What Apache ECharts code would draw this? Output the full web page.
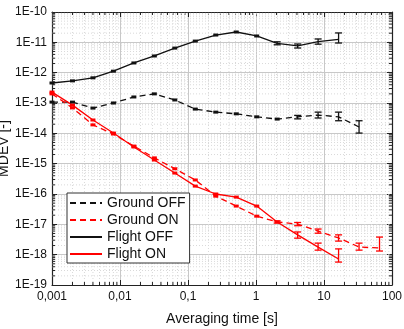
<!DOCTYPE html>
<html><head><meta charset="utf-8">
<script src="https://cdn.jsdelivr.net/npm/echarts@6/dist/echarts.min.js"></script>
<style>html,body{margin:0;padding:0;background:#fff}#c{width:404px;height:329px}</style>
</head><body><div id="c"></div>
<script>
// Averaging times [s]
const tau = [0.001,0.002,0.004,0.008,0.016,0.032,0.064,0.128,0.256,0.512,1.024,2.048,4.096,8.192,16.384,32.768,65.536];
// MDEV values
const groundOff = [1.07e-13,1.07e-13,6.8e-14,1.0e-13,1.58e-13,2.0e-13,1.26e-13,6.3e-14,5.0e-14,4.4e-14,3.5e-14,2.95e-14,3.5e-14,4.0e-14,3.5e-14,1.62e-14];
const groundOn  = [2.0e-13,6.9e-14,1.9e-14,9.5e-15,3.8e-15,1.55e-15,6.8e-16,2.9e-16,8.5e-17,4.0e-17,1.86e-17,1.2e-17,1.02e-17,6.0e-18,3.55e-18,1.78e-18,1.66e-18];
const flightOff = [4.57e-13,5.37e-13,6.76e-13,1.12e-12,2.09e-12,3.55e-12,6.46e-12,1.10e-11,1.74e-11,2.19e-11,1.62e-11,9.3e-12,7.6e-12,1.05e-11,1.26e-11];
const flightOn  = [2.29e-13,8.5e-14,2.75e-14,1.02e-14,3.55e-15,1.32e-15,4.9e-16,1.82e-16,1.0e-16,7.9e-17,4.0e-17,1.2e-17,4.5e-18,1.78e-18,7.2e-19];
// error bars [low, high] (null = no visible bar)
const groundOffErr = [null,null,null,null,null,null,null,null,null,null,null,null,[3.0e-14,3.9e-14],[3.2e-14,5.0e-14],[2.6e-14,5.0e-14],[1.02e-14,2.6e-14]];
const groundOnErr  = [null,null,null,null,null,null,null,null,null,null,null,null,[9.0e-18,1.15e-17],[5.1e-18,7.0e-18],[2.8e-18,4.5e-18],[1.41e-18,2.4e-18],[1.32e-18,3.8e-18]];
const flightOffErr = [null,null,null,null,null,null,null,null,null,null,null,[8.3e-12,1.04e-11],[6.5e-12,8.8e-12],[8.7e-12,1.29e-11],[9.5e-12,2.04e-11]];
const flightOnErr  = [null,null,null,null,null,null,null,null,null,null,null,[1.1e-17,1.3e-17],[3.5e-18,5.6e-18],[1.41e-18,2.4e-18],[5.7e-19,1.55e-18]];
const seriesNames = ['Ground OFF','Ground ON','Flight OFF','Flight ON'];
const xTickLabels = ['0,001','0,01','0,1','1','10','100'];
const xName = 'Averaging time [s]';
const yName = 'MDEV [-]';

const X_MIN = 0.001, X_MAX = 100, Y_MIN = 1e-19, Y_MAX = 1e-10;
const RED = '#ff0000', BLACK = '#111111';

function pairs(vals){ return vals.map((v,i)=>[tau[i], v]); }
function errData(vals, err){ return vals.map((v,i)=>[tau[i], v, err[i]?err[i][0]:'-', err[i]?err[i][1]:'-']); }
function errRender(color){
  return function(params, api){
    const x = api.value(0), y = api.value(1), lo = api.value(2), hi = api.value(3);
    const c = api.coord([x, y]);
    if (isNaN(lo) || isNaN(hi)) {
      return {type:'rect', shape:{x:c[0]-2.5, y:c[1]-1.5, width:5, height:3}, style:{fill:color}};
    }
    const a = api.coord([x, hi]), b = api.coord([x, lo]);
    const w = 3.5, st = {stroke:color, lineWidth:1.3};
    return {type:'group', children:[
      {type:'line', shape:{x1:a[0], y1:a[1], x2:b[0], y2:b[1]}, style:st},
      {type:'line', shape:{x1:a[0]-w, y1:a[1], x2:a[0]+w, y2:a[1]}, style:st},
      {type:'line', shape:{x1:b[0]-w, y1:b[1], x2:b[0]+w, y2:b[1]}, style:st}
    ]};
  };
}
// minor grid positions
const minorData = [];
for (let e = -3; e <= 1; e++) for (let m = 2; m <= 9; m++) minorData.push([m*Math.pow(10,e), 1e-15, 0]);
for (let e = -19; e <= -11; e++) for (let m = 2; m <= 9; m++) minorData.push([1, m*Math.pow(10,e), 1]);
function minorRender(params, api){
  const kind = api.value(2);
  const tickSt = {stroke:'#222', lineWidth:1};
  const gridSt = {stroke:'#d9d9d9', lineWidth:1, lineDash:[1,2]};
  if (kind === 0) {
    const v = api.value(0);
    const p1 = api.coord([v, Y_MIN]), p2 = api.coord([v, Y_MAX]);
    return {type:'group', children:[
      {type:'line', shape:{x1:p1[0], y1:p1[1], x2:p2[0], y2:p2[1]}, style:gridSt},
      {type:'line', shape:{x1:p1[0], y1:p1[1], x2:p1[0], y2:p1[1]-3}, style:tickSt},
      {type:'line', shape:{x1:p2[0], y1:p2[1], x2:p2[0], y2:p2[1]+3}, style:tickSt}
    ]};
  } else {
    const v = api.value(1);
    const p1 = api.coord([X_MIN, v]), p2 = api.coord([X_MAX, v]);
    return {type:'group', children:[
      {type:'line', shape:{x1:p1[0], y1:p1[1], x2:p2[0], y2:p2[1]}, style:gridSt},
      {type:'line', shape:{x1:p1[0], y1:p1[1], x2:p1[0]+3, y2:p1[1]}, style:tickSt},
      {type:'line', shape:{x1:p2[0], y1:p2[1], x2:p2[0]-3, y2:p2[1]}, style:tickSt}
    ]};
  }
}

const chart = echarts.init(document.getElementById('c'), null, {renderer:'canvas'});
const axisLine = {show:true, lineStyle:{color:'#222', width:1.2}};
const tickIn = {show:true, inside:true, length:5, lineStyle:{color:'#222', width:1}};
const font = 'Arial, "Liberation Sans", sans-serif';
const DASH = [6,4];
const option = {
  animation:false,
  backgroundColor:'#fff',
  grid:{left:52, right:12, top:12, bottom:44, containLabel:false, outerBoundsMode:'none'},
  legend:{
    data:seriesNames, orient:'vertical', left:67, top:193,
    itemWidth:32, itemHeight:14, itemGap:3, padding:[3,4,2,2],
    backgroundColor:'#fff', borderColor:'#333', borderWidth:1, borderRadius:0,
    itemStyle:{opacity:0, color:'transparent', borderWidth:0},
    textStyle:{fontSize:14, color:'#111', fontFamily:font}, selectedMode:false
  },
  xAxis:[{
    type:'log', logBase:10, min:X_MIN, max:X_MAX, position:'bottom',
    name:xName, nameLocation:'middle', nameGap:27,
    nameTextStyle:{fontSize:14, color:'#111', fontFamily:font},
    axisLine:axisLine, axisTick:tickIn,
    axisLabel:{fontSize:12, color:'#111', fontFamily:font, margin:6,
      formatter:v=>xTickLabels[Math.round(Math.log10(v))+3]},
    splitLine:{show:true, lineStyle:{color:'#c8c8c8', width:1}}, minorTick:{show:false}
  },{
    type:'log', logBase:10, min:X_MIN, max:X_MAX, position:'top',
    axisLine:axisLine, axisTick:tickIn, axisLabel:{show:false}, splitLine:{show:false}
  }],
  yAxis:[{
    type:'log', logBase:10, min:Y_MIN, max:Y_MAX, splitNumber:9, position:'left',
    name:yName, nameLocation:'middle', nameGap:41, nameRotate:90, nameMoveOverlap:false,
    nameTextStyle:{fontSize:14, color:'#111', fontFamily:font},
    axisLine:axisLine, axisTick:tickIn,
    axisLabel:{fontSize:12, color:'#111', fontFamily:font, margin:5,
      formatter:v=>'1E'+Math.round(Math.log10(v))},
    splitLine:{show:true, lineStyle:{color:'#c8c8c8', width:1}}
  },{
    type:'log', logBase:10, min:Y_MIN, max:Y_MAX, splitNumber:9, position:'right',
    axisLine:axisLine, axisTick:tickIn, axisLabel:{show:false}, splitLine:{show:false}
  }],
  series:[
    {type:'custom', name:'_minor', renderItem:minorRender, data:minorData, encode:{x:0, y:1}, z:1, silent:true, clip:false},
    {type:'line', name:'Ground OFF', data:pairs(groundOff), showSymbol:false, symbol:'none',
      lineStyle:{color:BLACK, width:1.3, type:DASH}, itemStyle:{color:BLACK}, z:3},
    {type:'line', name:'Ground ON', data:pairs(groundOn), showSymbol:false, symbol:'none',
      lineStyle:{color:RED, width:1.3, type:DASH}, itemStyle:{color:RED}, z:3},
    {type:'line', name:'Flight OFF', data:pairs(flightOff), showSymbol:false, symbol:'none',
      lineStyle:{color:BLACK, width:1.3, type:'solid'}, itemStyle:{color:BLACK}, z:3},
    {type:'line', name:'Flight ON', data:pairs(flightOn), showSymbol:false, symbol:'none',
      lineStyle:{color:RED, width:1.3, type:'solid'}, itemStyle:{color:RED}, z:3},
    {type:'custom', name:'_e1', renderItem:errRender(BLACK), data:errData(groundOff, groundOffErr), encode:{x:0,y:1}, z:4},
    {type:'custom', name:'_e2', renderItem:errRender(RED), data:errData(groundOn, groundOnErr), encode:{x:0,y:1}, z:4},
    {type:'custom', name:'_e3', renderItem:errRender(BLACK), data:errData(flightOff, flightOffErr), encode:{x:0,y:1}, z:4},
    {type:'custom', name:'_e4', renderItem:errRender(RED), data:errData(flightOn, flightOnErr), encode:{x:0,y:1}, z:4}
  ]
};
chart.setOption(option);
</script>
</body></html>
